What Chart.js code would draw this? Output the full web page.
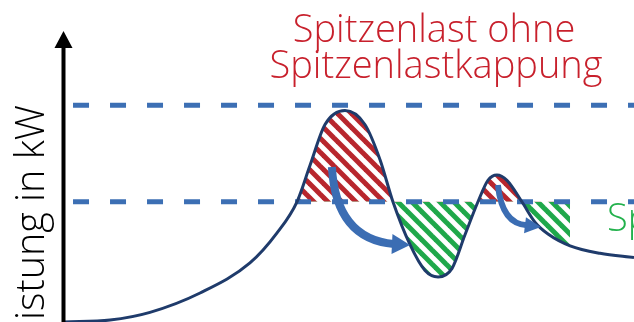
<!DOCTYPE html>
<html lang="de">
<head>
    <meta charset="UTF-8">
    <title>Spitzenlastkappung</title>
    <script src="https://cdn.jsdelivr.net/npm/chart.js"></script>
    <style>
        body { margin: 0; background: #fff; }
        canvas { display: block; }
    </style>
</head>
<body>
    <canvas id="peakChart" width="634" height="322"></canvas>

    <script>
        // Lastgang (Stunden / kW)
        const hours  = [0, 1.94, 3.62, 5.73, 7.83, 8.97, 9.81, 10.36, 10.99, 11.83, 12.67, 13.31, 13.85, 14.57, 15.2, 15.75, 16.34, 16.88, 17.43, 17.85, 18.23, 18.65, 19.28, 19.83, 20.38, 21.31, 22.57, 24];
        const loadKw = [0, 0.9, 4.5, 13.5, 27.5, 41.5, 56, 73, 92, 98.5, 92, 75.5, 56, 36, 24, 21, 25, 40.5, 56, 66, 68.5, 66, 56, 46.5, 41, 35.5, 32, 30];

        const peakWithout = 101;   // Spitzenlast ohne Kappung
        const peakWith = 56;       // Spitzenlast mit Kappung
        const hatchFrom = 9.81, hatchTo = 21.31;

        // Verschiebe-Pfeile: Start, Kontrollpunkt, Schaftende, Spitze (Stunden / kW)
        const shiftArrows = [
            { pts: [[11.28, 72.2], [11.45, 38.7], [13.81, 36.3], [14.57, 35.9]], shaft: 8, head: 10 },
            { pts: [[18.27, 63.8], [18.44, 45.6], [19.41, 45.1], [20.08, 44.2]], shaft: 6, head: 8 }
        ];

        const points = hours.map((h, i) => ({ x: h, y: loadKw[i] }));
        const hatchPoints = points.filter(p => p.x >= hatchFrom && p.x <= hatchTo);

        function stripes(color) {
            const c = document.createElement('canvas');
            c.width = 14; c.height = 14;
            const g = c.getContext('2d');
            g.strokeStyle = color;
            g.lineWidth = 5;
            [-14, 0, 14].forEach(k => {
                g.beginPath();
                g.moveTo(k - 2, -2);
                g.lineTo(k + 16, 16);
                g.stroke();
            });
            return g.createPattern(c, 'repeat');
        }

        const redHatch = stripes('#b8262d');
        const greenHatch = stripes('#1fa84a');

        function fitFont(ctx, text, width, family) {
            ctx.font = '300 40px ' + family;
            return 40 * width / ctx.measureText(text).width;
        }

        const decorations = {
            id: 'decorations',
            afterDatasetsDraw(chart) {
                const ctx = chart.ctx;
                const xs = chart.scales.x, ys = chart.scales.y;
                const px = p => [xs.getPixelForValue(p[0]), ys.getPixelForValue(p[1])];

                // Pfeile
                ctx.save();
                ctx.fillStyle = '#3b6db3';
                ctx.strokeStyle = '#3b6db3';
                shiftArrows.forEach(a => {
                    const [s, c, e, t] = a.pts.map(px);
                    ctx.lineWidth = a.shaft;
                    ctx.lineCap = 'butt';
                    ctx.beginPath();
                    ctx.moveTo(s[0], s[1]);
                    ctx.quadraticCurveTo(c[0], c[1], e[0] + 2, e[1]);
                    ctx.stroke();
                    const dx = t[0] - e[0], dy = t[1] - e[1];
                    const len = Math.hypot(dx, dy);
                    const nx = -dy / len, ny = dx / len;
                    ctx.beginPath();
                    ctx.moveTo(t[0], t[1]);
                    ctx.lineTo(e[0] + nx * a.head, e[1] + ny * a.head);
                    ctx.lineTo(e[0] - nx * a.head, e[1] - ny * a.head);
                    ctx.closePath();
                    ctx.fill();
                });
                ctx.restore();

                // y-Achse mit Pfeil
                const ax = chart.chartArea.left - 0.5;
                ctx.save();
                ctx.strokeStyle = '#000';
                ctx.fillStyle = '#000';
                ctx.lineWidth = 4;
                ctx.beginPath();
                ctx.moveTo(ax, 322);
                ctx.lineTo(ax, 44);
                ctx.stroke();
                ctx.beginPath();
                ctx.moveTo(ax, 31);
                ctx.lineTo(ax - 9, 48);
                ctx.lineTo(ax + 9, 48);
                ctx.closePath();
                ctx.fill();

                // Texte
                const fam = '"Open Sans", "Noto Sans", sans-serif';
                ctx.textAlign = 'center';
                ctx.textBaseline = 'alphabetic';
                ctx.fillStyle = '#c8202c';
                let size = fitFont(ctx, 'Spitzenlastkappung', 333, fam);
                ctx.font = '300 ' + size + 'px ' + fam;
                ctx.fillText('Spitzenlast ohne', 434, 42);
                ctx.fillText('Spitzenlastkappung', 436, 78);

                ctx.fillStyle = '#22b14c';
                ctx.textAlign = 'left';
                ctx.fillText('Spitzenlast mit', 607, 231);

                ctx.fillStyle = '#000';
                const ysize = fitFont(ctx, 'istung in kW', 215, fam);
                ctx.font = '300 ' + ysize + 'px ' + fam;
                ctx.translate(44, 105);
                ctx.rotate(-Math.PI / 2);
                ctx.textAlign = 'right';
                ctx.fillText('Leistung in kW', 0, 0);
                ctx.restore();
            }
        };

        const ctx = document.getElementById('peakChart').getContext('2d');
        new Chart(ctx, {
            type: 'line',
            data: {
                datasets: [
                    {
                        label: 'Lastgang',
                        data: points,
                        borderColor: '#1f3b6b',
                        borderWidth: 3,
                        pointRadius: 0,
                        cubicInterpolationMode: 'monotone',
                        fill: false
                    },
                    {
                        label: 'Spitzenlast ohne Kappung',
                        data: [{ x: 0.38, y: peakWithout }, { x: 24, y: peakWithout }],
                        borderColor: '#3c6fb4',
                        borderWidth: 5,
                        borderDash: [16, 21],
                        pointRadius: 0,
                        fill: false
                    },
                    {
                        label: 'Spitzenlast mit Kappung',
                        data: [{ x: 0.38, y: peakWith }, { x: 24, y: peakWith }],
                        borderColor: '#3c6fb4',
                        borderWidth: 5,
                        borderDash: [16, 21],
                        pointRadius: 0,
                        fill: false
                    },
                    {
                        label: 'Verschiebung',
                        data: hatchPoints,
                        borderWidth: 0,
                        borderColor: 'rgba(0,0,0,0)',
                        pointRadius: 0,
                        cubicInterpolationMode: 'monotone',
                        fill: { target: { value: peakWith }, above: redHatch, below: greenHatch }
                    }
                ]
            },
            options: {
                responsive: false,
                animation: false,
                devicePixelRatio: 1,
                layout: { padding: { left: 64, right: 0, top: 0, bottom: 0 } },
                plugins: {
                    legend: { display: false },
                    tooltip: { enabled: false }
                },
                scales: {
                    x: { type: 'linear', min: 0, max: 24, display: false },
                    y: { min: 0, max: 150, display: false }
                }
            },
            plugins: [decorations]
        });
    </script>
</body>
</html>
